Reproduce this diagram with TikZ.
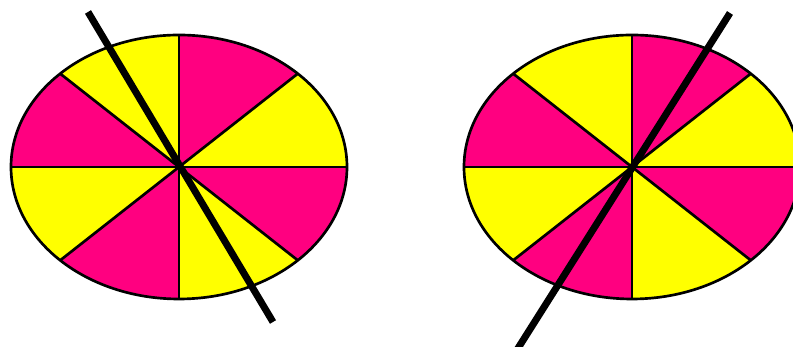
\documentclass[tikz,border=0pt]{standalone}
\usepackage{xcolor}
\definecolor{piepink}{RGB}{255,0,128}
\definecolor{pieyellow}{RGB}{255,255,0}
\usepackage{tikz}
\usetikzlibrary{calc}
\tikzset{
  spoke/.style={draw=black, line width=0.8mm},
  rim/.style={draw=black, line width=0.8mm},
  cutline/.style={draw=black, line width=2.1mm},
}
% one pie of eight slices round a named centre
\newcommand{\drawpie}[1]{%
  \foreach \k/\col in {0/pieyellow,1/piepink,2/pieyellow,3/piepink,
                       4/pieyellow,5/piepink,6/pieyellow,7/piepink} {
    \fill[\col] (#1) -- ++(\k*45:168 and 132)
      arc[start angle=\k*45, delta angle=45, x radius=168, y radius=132] -- cycle;
  }
  \foreach \k in {0,...,7}
    \draw[spoke] (#1) -- ++(\k*45:168 and 132);
  \draw[rim] (#1) ellipse[x radius=168, y radius=132];
}

\begin{document}
\begin{tikzpicture}[x=0.3mm, y=0.3mm]
  \useasboundingbox (0,0) rectangle (793,347);

  \coordinate (leftpie) at (179,180);
  \coordinate (rightpie) at (632,180);

  \drawpie{leftpie}
  \drawpie{rightpie}

  % the two cutting lines
  \coordinate (lefttop) at (88,335);
  \coordinate (leftbot) at (273,25);
  \coordinate (righttop) at (730,334);
  \coordinate (rightbot) at (515,-6);
  \draw[cutline] (lefttop) -- (leftbot);
  \draw[cutline] (righttop) -- (rightbot);
\end{tikzpicture}
\end{document}
